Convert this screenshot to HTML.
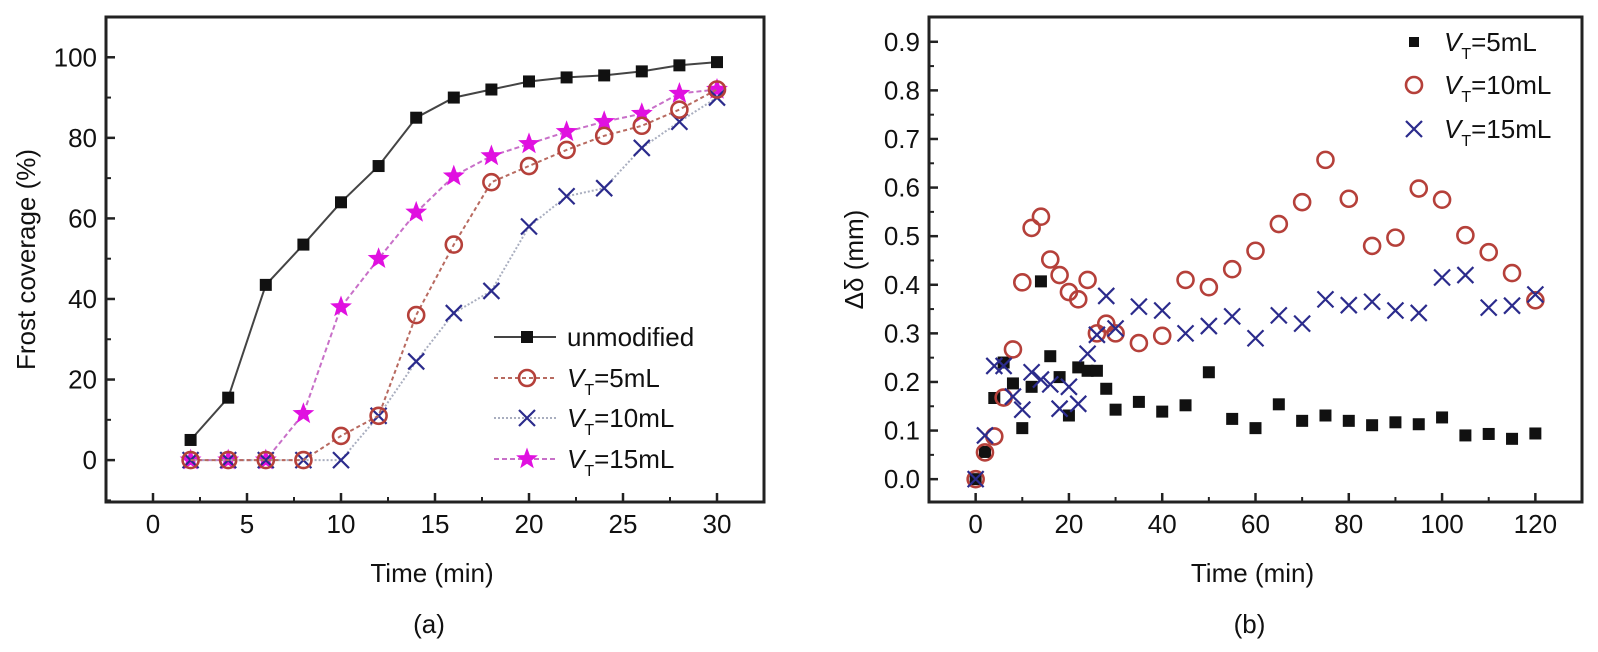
<!DOCTYPE html>
<html><head><meta charset="utf-8">
<style>
html,body{margin:0;padding:0;background:#fff;}
svg{display:block;font-family:"Liberation Sans",Arial,sans-serif;}
</style></head>
<body>
<svg id="fig" width="1598" height="652" viewBox="0 0 1598 652"></svg>
<script>
// ---- Chart (a) data ----
const timeA = [2,4,6,8,10,12,14,16,18,20,22,24,26,28,30];
const unmodified = [5,15.5,43.5,53.5,64,73,85,90,92,94,95,95.5,96.5,98,98.8];
const vt5A = [0,0,0,0,6,11,36,53.5,69,73,77,80.5,83,87,92];
const vt10A = [0,0,0,0,0,11,24.5,36.5,42,58,65.5,67.5,77.5,84,90];
const vt15A = [0,0,0,11.5,38,50,61.5,70.5,75.5,78.5,81.5,84,86,91,92];
const xTicksA = [0,5,10,15,20,25,30];
const yTicksA = [0,20,40,60,80,100];
// ---- Chart (b) data ----
const timeB = [0,2,4,6,8,10,12,14,16,18,20,22,24,26,28,30,35,40,45,50,55,60,65,70,75,80,85,90,95,100,105,110,115,120];
const vt5B = [0,0.056,0.167,0.24,0.197,0.105,0.19,0.407,0.253,0.21,0.131,0.23,0.223,0.223,0.186,0.143,0.159,0.139,0.152,0.22,0.124,0.105,0.154,0.12,0.131,0.12,0.111,0.117,0.113,0.127,0.09,0.093,0.083,0.094];
const vt10B = [0,0.055,0.088,0.168,0.267,0.405,0.517,0.54,0.452,0.42,0.385,0.37,0.41,0.30,0.32,0.30,0.28,0.295,0.41,0.395,0.432,0.47,0.525,0.57,0.657,0.577,0.48,0.497,0.598,0.575,0.502,0.467,0.424,0.368];
const vt15B = [0,0.09,0.233,0.233,0.17,0.143,0.22,0.205,0.195,0.145,0.19,0.155,0.258,0.297,0.377,0.31,0.355,0.347,0.30,0.315,0.335,0.29,0.337,0.32,0.37,0.358,0.365,0.347,0.342,0.415,0.42,0.353,0.357,0.38];
const xTicksB = [0,20,40,60,80,100,120];
const yTicksB = [0,0.1,0.2,0.3,0.4,0.5,0.6,0.7,0.8,0.9];

const NS="http://www.w3.org/2000/svg";
const svg=document.getElementById('fig');
function mk(tag,attrs,parent){const e=document.createElementNS(NS,tag);for(const k in attrs)e.setAttribute(k,attrs[k]);(parent||svg).appendChild(e);return e;}

const A={l:106,r:764,t:17,b:502,x0:-2.5,x1:32.5,y0:-10.4,y1:110};
const B={l:929,r:1582,t:17,b:502,x0:-10,x1:130,y0:-0.047,y1:0.951};
function sx(c,v){return c.l+(v-c.x0)/(c.x1-c.x0)*(c.r-c.l);}
function sy(c,v){return c.b-(v-c.y0)/(c.y1-c.y0)*(c.b-c.t);}
const FS=26;

function marker(g,type,x,y,color){
  if(type==='square'){return mk('rect',{x:x-6,y:y-6,width:12,height:12,fill:color},g);}
  if(type==='circle'){return mk('circle',{cx:x,cy:y,r:8,fill:'none',stroke:color,'stroke-width':2.6},g);}
  if(type==='cross'){return mk('path',{d:`M${x-8},${y-8}L${x+8},${y+8}M${x+8},${y-8}L${x-8},${y+8}`,stroke:color,'stroke-width':2.2,fill:'none'},g);}
  if(type==='star'){let p='';for(let i=0;i<10;i++){const r=i%2?4.8:11.5;const a=-Math.PI/2+i*Math.PI/5;p+=(i?'L':'M')+(x+r*Math.cos(a)).toFixed(1)+','+(y+r*Math.sin(a)).toFixed(1);}return mk('path',{d:p+'Z',fill:color},g);}
}

function axes(c,name,xt,yt,xminor,yminor,yfmt,ylabel,ylabx,panel){
  const g=mk('g',{});
  
  
  mk('rect',{x:c.l,y:c.t,width:c.r-c.l,height:c.b-c.t,fill:'none',stroke:'#222','stroke-width':3},g);
  xt.forEach(v=>{const x=sx(c,v);mk('line',{x1:x,y1:c.b,x2:x,y2:c.b-9,stroke:'#222','stroke-width':2.5},g);
    const t=mk('text',{x:x,y:c.b+31,'text-anchor':'middle','font-size':FS,fill:'#111'},g);t.textContent=v;
    });
  xminor.forEach(v=>{const x=sx(c,v);mk('line',{x1:x,y1:c.b,x2:x,y2:c.b-5,stroke:'#222','stroke-width':2},g);});
  yt.forEach(v=>{const y=sy(c,v);mk('line',{x1:c.l,y1:y,x2:c.l+9,y2:y,stroke:'#222','stroke-width':2.5},g);
    const t=mk('text',{x:c.l-9,y:y+9,'text-anchor':'end','font-size':FS,fill:'#111'},g);t.textContent=yfmt(v);
    });
  yminor.forEach(v=>{const y=sy(c,v);mk('line',{x1:c.l,y1:y,x2:c.l+5,y2:y,stroke:'#222','stroke-width':2},g);});
  const xt2=mk('text',{x:(c.l+c.r)/2-3,y:582,'text-anchor':'middle','font-size':FS,fill:'#111'},g);xt2.textContent='Time (min)';
  
  const yl=mk('text',{x:ylabx,y:(c.t+c.b)/2,'text-anchor':'middle','font-size':FS,fill:'#111',transform:`rotate(-90 ${ylabx} ${(c.t+c.b)/2})`},g);yl.textContent=ylabel;
  
  const pl=mk('text',{x:(c.l+c.r)/2-6,y:633,'text-anchor':'middle','font-size':FS,fill:'#111'},g);pl.textContent=panel;
  
}

// ---- Chart (a) ----
axes(A,'chart-a',xTicksA,yTicksA,[2.5,7.5,12.5,17.5,22.5,27.5],[-10,10,30,50,70,90],v=>v,'Frost coverage (%)',35,'(a)');
const seriesA=[
 {name:'unmodified',vals:unmodified,type:'square',mc:'#111',lc:'#444',dash:'',lw:2},
 {name:'vt-5ml',vals:vt5A,type:'circle',mc:'#b5403a',lc:'#b86a60',dash:'4,3',lw:2},
 {name:'vt-10ml',vals:vt10A,type:'cross',mc:'#2b2b8c',lc:'#a9aebf',dash:'2,2',lw:2},
 {name:'vt-15ml',vals:vt15A,type:'star',mc:'#e010e0',lc:'#c870c8',dash:'5,3',lw:2}
];
[3,2,1,0].forEach(i=>{const s=seriesA[i];
  const g=mk('g',{});
  
  
  const d=timeA.map((t,j)=>(j?'L':'M')+sx(A,t).toFixed(1)+','+sy(A,s.vals[j]).toFixed(1)).join('');
  mk('path',{d:d,fill:'none',stroke:s.lc,'stroke-width':s.lw,'stroke-dasharray':s.dash},g);
  timeA.forEach((t,j)=>{const m=marker(g,s.type,sx(A,t),sy(A,s.vals[j]),s.mc);
    });
});
// legend (a)
const legA=['unmodified','=5mL','=10mL','=15mL'];
const legAY=[337,378,418,459];
seriesA.forEach((s,i)=>{
  const g=mk('g',{});
  
  
  const y=legAY[i];
  mk('line',{x1:494,y1:y,x2:556,y2:y,stroke:s.lc,'stroke-width':2,'stroke-dasharray':s.dash},g);
  marker(g,s.type,527,y,s.mc);
  const t=mk('text',{x:567,y:y+9,'font-size':FS,fill:'#111'},g);
  if(i===0){t.textContent='unmodified';}
  else{t.innerHTML='<tspan font-style="italic">V</tspan><tspan font-size="16" dy="8">T</tspan><tspan dy="-8">'+legA[i]+'</tspan>';}
});

// ---- Chart (b) ----
axes(B,'chart-b',xTicksB,yTicksB,[10,30,50,70,90,110],[0.05,0.15,0.25,0.35,0.45,0.55,0.65,0.75,0.85],v=>v.toFixed(1),'\u0394\u03b4 (mm)',863,'(b)');
const seriesB=[
 {name:'vt-5ml',vals:vt5B,type:'square',mc:'#111'},
 {name:'vt-10ml',vals:vt10B,type:'circle',mc:'#b5403a'},
 {name:'vt-15ml',vals:vt15B,type:'cross',mc:'#2b2b8c'}
];
seriesB.forEach(s=>{
  const g=mk('g',{});
  
  
  timeB.forEach((t,j)=>{const m=marker(g,s.type,sx(B,t),sy(B,s.vals[j]),s.mc);
    });
});
const legBY=[42,85,129];const legBT=['=5mL','=10mL','=15mL'];
seriesB.forEach((s,i)=>{
  const g=mk('g',{});
  
  
  const y=legBY[i];
  if(s.type==='square')mk('rect',{x:1409,y:y-5,width:10,height:10,fill:s.mc},g);
  else marker(g,s.type,1414,y,s.mc);
  const t=mk('text',{x:1444,y:y+9,'font-size':FS,fill:'#111'},g);
  t.innerHTML='<tspan font-style="italic">V</tspan><tspan font-size="16" dy="8">T</tspan><tspan dy="-8">'+legBT[i]+'</tspan>';
});
</script>
</body></html>
